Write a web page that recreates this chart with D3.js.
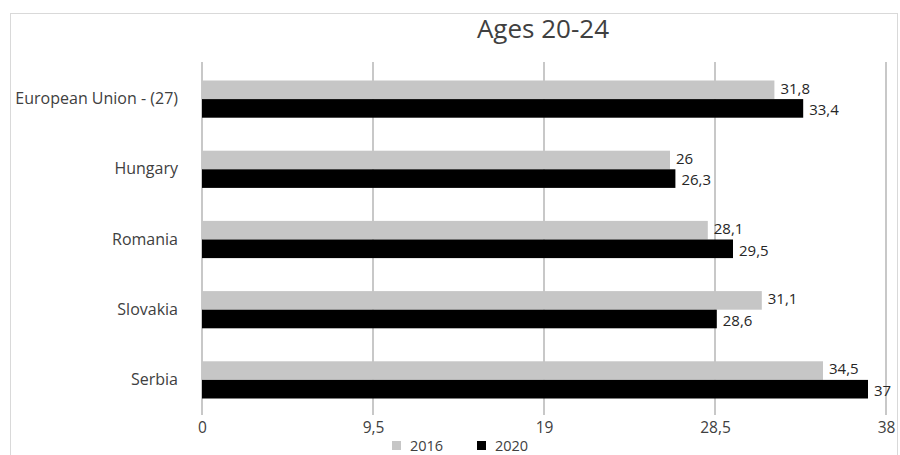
<!DOCTYPE html>
<html>
<head>
<meta charset="utf-8">
<script src="https://cdn.jsdelivr.net/npm/d3@7"></script>
<style>
  body { margin: 0; background: #fff; }
  svg { display: block; font-family: "Open Sans", sans-serif; }
</style>
</head>
<body>
<svg id="chart" width="900" height="455"></svg>
<script>
// data
const countries = ['European Union - (27)', 'Hungary', 'Romania', 'Slovakia', 'Serbia'];
const years = ['2016', '2020'];
const values2016 = [31.8, 26, 28.1, 31.1, 34.5];
const values2020 = [33.4, 26.3, 29.5, 28.6, 37];
const tickValues = [0, 9.5, 19, 28.5, 38];
const yearColors = ['#c6c6c6', '#000000'];

const svg = d3.select('#chart');

// outer chart frame (bottom edge runs past the window like the reference)
svg.append('rect')
    .attr('x', 10.5).attr('y', 13.5)
    .attr('width', 887).attr('height', 460)
    .attr('fill', 'none')
    .attr('stroke', '#d9d9d9');

svg.append('text')
    .attr('x', 543).attr('y', 38)
    .attr('text-anchor', 'middle')
    .attr('font-size', 26)
    .attr('fill', '#404040')
    .text('Ages 20-24');

const x = d3.scaleLinear().domain([0, 38]).range([202, 886]);
const y = d3.scaleBand().domain(countries).range([64, 415]);
const yInner = d3.scaleBand().domain(years).range([0, y.bandwidth() * 0.53])

// gridlines
svg.append('g')
    .selectAll('line')
    .data(tickValues)
    .join('line')
    .attr('x1', d => x(d)).attr('x2', d => x(d))
    .attr('y1', 62).attr('y2', 415)
    .attr('stroke', '#c8c8c8')
    .attr('stroke-width', 2)

const xAxis = d3.axisBottom(x)
    .tickValues(tickValues)
    .tickSize(0)
    .tickPadding(7)
    .tickFormat(d => String(d).replace('.', ','));
const xg = svg.append('g')
    .attr('transform', `translate(0, 415)`)
    .call(xAxis);
xg.select('.domain').remove();
xg.selectAll('text')
    .attr('font-family', '"Open Sans", sans-serif')
    .attr('font-size', 15.5)
    .attr('fill', '#404040');

const yAxis = d3.axisLeft(y).tickSize(0).tickPadding(24);
const yg = svg.append('g')
    .attr('transform', `translate(202, 0)`)
    .call(yAxis);
yg.select('.domain').remove();
yg.selectAll('text')
    .attr('font-family', '"Open Sans", sans-serif')
    .attr('font-size', 16)
    .attr('fill', '#404040');

const rows = countries.map((c, i) => ({ country: c, vals: [values2016[i], values2020[i]] }));

const groups = svg.append('g')
    .selectAll('g')
    .data(rows)
    .join('g')
    .attr('transform', d => `translate(0, ${y(d.country) + (y.bandwidth() - yInner.range()[1]) / 2})`);

groups.selectAll('rect')
    .data(d => d.vals.map((v, j) => ({ year: years[j], v: v, j: j })))
    .join('rect')
    .attr('x', x(0))
    .attr('y', d => yInner(d.year))
    .attr('width', d => x(d.v) - x(0))
    .attr('height', yInner.bandwidth())
    .attr('fill', d => yearColors[d.j]);

// labels nudged apart a little so the two lines don't collide
groups.selectAll('text.val')
    .data(d => d.vals.map((v, j) => ({ year: years[j], v: v, j: j })))
    .join('text')
    .attr('class', 'val')
    .attr('x', d => x(d.v) + 6)
    .attr('y', d => yInner(d.year) + yInner.bandwidth() / 2 + (d.j === 0 ? -1.5 : 1.5))
    .attr('dy', '0.35em')
    .attr('font-size', 15)
    .attr('fill', '#262626')
    .text(d => String(d.v).replace('.', ','));

// legend
const legend = svg.append('g')
    .selectAll('g')
    .data(years)
    .join('g')
    .attr('transform', (d, i) => `translate(${392 + i * 85}, 441)`);
legend.append('rect')
    .attr('width', 9).attr('height', 9)
    .attr('fill', (d, i) => yearColors[i]);
legend.append('text')
    .attr('x', 18).attr('y', 10)
    .attr('font-size', 14.5)
    .attr('fill', '#404040')
    .text(d => d);
</script>
</body>
</html>
